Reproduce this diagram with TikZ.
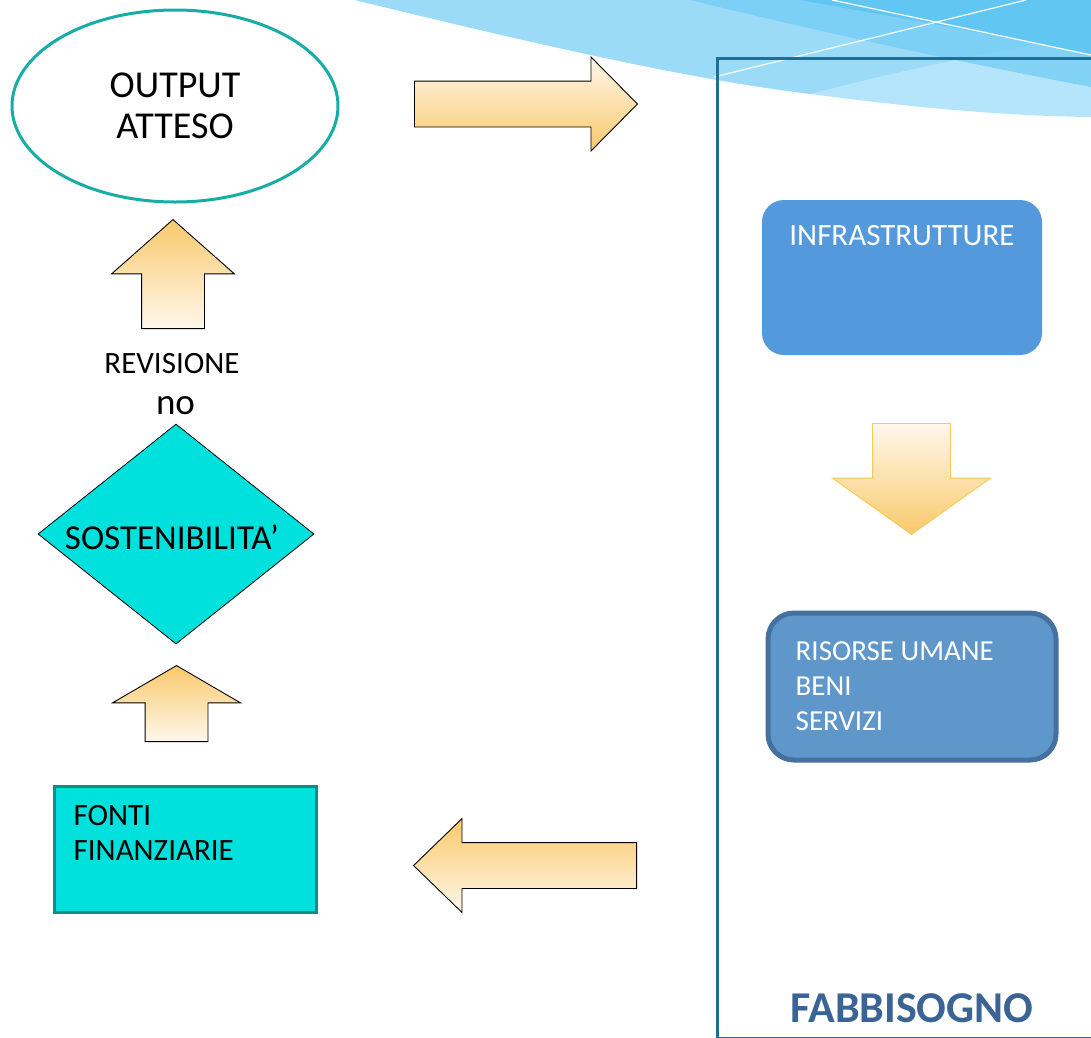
\documentclass[tikz,border=0pt]{standalone}
\usepackage{fontspec}
\setmainfont{Carlito}
\usetikzlibrary{positioning,shapes.geometric,shapes.arrows}

\definecolor{skylight}{HTML}{B5E5FB}
\definecolor{skymid}{HTML}{9CDBF8}
\definecolor{skydeep}{HTML}{76CEF5}
\definecolor{skydark}{HTML}{62C6F3}
\definecolor{framecol}{HTML}{1F6F95}
\definecolor{ovalteal}{HTML}{17ADA6}
\definecolor{cyanbox}{HTML}{00E1DE}
\definecolor{cyanedge}{HTML}{138C87}
\definecolor{infrablue}{HTML}{5499DB}
\definecolor{risfill}{HTML}{6097CA}
\definecolor{risedge}{HTML}{44719F}
\definecolor{fabbcol}{HTML}{3A6496}
\definecolor{arrorange}{HTML}{F9C96B}
\definecolor{arrlight}{HTML}{FFF7EC}
\definecolor{arredge}{HTML}{F7CB55}

\begin{document}
\begin{tikzpicture}[x=1pt,y=-1pt,
  blockarrow/.style={single arrow, draw=black, line width=0.9pt, anchor=tail},
  upshade/.style={top color=arrorange, bottom color=arrlight},
  downshade/.style={top color=arrlight, bottom color=arrorange},
  boxtext/.style={inner sep=0pt, align=left, text=white, font=\fontsize{29}{35}\selectfont}]
\useasboundingbox (0,0) rectangle (1091,1037);
\fill[white] (0,0) rectangle (1091,1037);

% Background swoosh
\fill[skylight] (355,0) .. controls (520,40) and (680,78) .. (811,94)
  .. controls (900,106) and (1000,116) .. (1091,117) -- (1091,0) -- cycle;
\fill[skymid] (355,0) .. controls (520,40) and (680,78) .. (811,94)
  .. controls (900,70) and (1000,50) .. (1091,35) -- (1091,0) -- cycle;
\fill[skydeep, opacity=0.8] (690,0) .. controls (820,32) and (960,62) .. (1091,87) -- (1091,0) -- cycle;
\fill[skydark] (800,0) .. controls (900,18) and (1000,35) .. (1091,55) -- (1091,0) -- cycle;
\draw[white, line width=1.2pt] (832,0) -- (1091,55);
\draw[white, line width=1.2pt] (1026,0) -- (714,77);

% Frame
\draw[framecol, line width=3pt] (1100,58) -- (717,58) -- (717,1038.5) -- (1100,1038.5);

% Left column
\node[ellipse, draw=ovalteal, line width=3pt, minimum width=326pt, minimum height=192pt,
  align=center, font=\fontsize{38}{41}\selectfont] (output) at (175,106) {OUTPUT\\ATTESO};
\node[blockarrow, upshade, shape border rotate=90, minimum height=109pt, inner xsep=31pt, inner ysep=0pt,
  single arrow head extend=30pt, single arrow tip angle=97] (upA) at (173,329) {};
\node[inner sep=0pt, font=\fontsize{31}{35}\selectfont] (revision) at (172,363.5) {REVISIONE};
\node[inner sep=0pt, font=\fontsize{37}{40}\selectfont] (no) at (175.5,405.5) {no};
\node[diamond, draw=black, line width=0.8pt, fill=cyanbox, minimum width=276pt, minimum height=220pt,
  inner sep=0pt] (sost) at (176,534) {};
\node[inner sep=0pt, font=\fontsize{35}{38}\selectfont] (sosttext) at (172,537) {SOSTENIBILITA’};
\node[blockarrow, upshade, shape border rotate=90, minimum height=76pt, inner xsep=31pt, inner ysep=0pt,
  single arrow head extend=32.5pt, single arrow tip angle=119.5] (upB) at (176.5,742) {};
\node[draw=cyanedge, fill=cyanbox, line width=3pt, minimum width=262pt, minimum height=126pt] (fonti) at (185,849) {};
\node[boxtext, text=black, font=\fontsize{31}{35}\selectfont, below right=21pt and 21pt of fonti.north west] (fontitext) {FONTI\\FINANZIARIE};

% Horizontal arrows
\node[blockarrow, downshade, minimum height=223pt, inner ysep=22.5pt, inner xsep=0pt,
  single arrow head extend=24pt, single arrow tip angle=90.6] (toright) at (414,104) {};
\node[blockarrow, upshade, shape border rotate=180, minimum height=223pt, inner ysep=22.5pt, inner xsep=0pt,
  single arrow head extend=24pt, single arrow tip angle=88.2] (toleft) at (637,865.5) {};

% Right column
\node[rounded corners=22pt, fill=infrablue, minimum width=280pt, minimum height=155pt] (infra) at (902,277.5) {};
\node[boxtext, font=\fontsize{31}{35}\selectfont, below=25pt of infra.north] (infratext) {INFRASTRUTTURE};
\node[blockarrow, downshade, draw=arredge, shape border rotate=270, minimum height=111pt, inner xsep=38.5pt, inner ysep=0pt,
  single arrow head extend=40pt, single arrow tip angle=109] (down) at (911.5,423) {};
\node[rounded corners=26pt, fill=risfill, draw=risedge, line width=5pt, minimum width=288pt, minimum height=147pt] (risorse) at (912,686.5) {};
\node[boxtext, below right=31pt and 30pt of risorse.north west] (risorsetext) {RISORSE UMANE\\BENI\\SERVIZI};
\node[anchor=base, inner sep=0pt, text=fabbcol, font=\bfseries\fontsize{44}{50}\selectfont] (fabb) at (912,1022) {FABBISOGNO};
\end{tikzpicture}
\end{document}
